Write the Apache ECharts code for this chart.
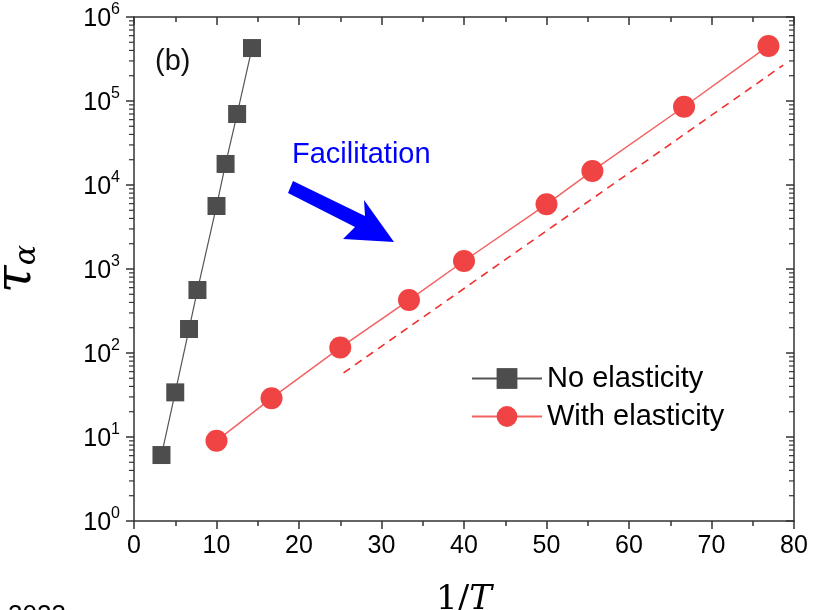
<!DOCTYPE html>
<html>
<head>
<meta charset="utf-8">
<script src="https://cdn.jsdelivr.net/npm/echarts@6/dist/echarts.min.js"></script>
<style>
  html, body { margin: 0; padding: 0; background: #fff; }
  #chart { width: 821px; height: 610px; }
</style>
</head>
<body>
<div id="chart"></div>
<script>
// No elasticity (black squares)
const noElasticX = [3.33, 5, 6.67, 7.69, 10, 11.1, 12.5, 14.3]
const noElasticY = [6.1, 34, 193, 562, 5620, 17800, 70000, 427000]
// With elasticity (red circles)
const withElasticX = [10, 16.67, 25, 33.33, 40, 50, 55.56, 66.67, 76.9]
const withElasticY = [9.0, 29, 116, 427, 1245, 5890, 14700, 85400, 452000]
// dashed guide line
const guideX = [25.4, 78.7]
const guideY = [58, 268000]

// log minor tick values 2..9 x 10^n
const minorVals = []
for (let n = 0; n < 6; n++) {
  for (let k = 2; k <= 9; k++) minorVals.push(k * Math.pow(10, n))
}

const pairs = (xs, ys) => xs.map((x, i) => [x, ys[i]])

const axisColor = '#333'
const chart = echarts.init(document.getElementById('chart'))

// short log minor ticks drawn at the left (outside) or right (inside) edge
function minorTicks(xEdge) {
  return function(params, api) {
    const p = api.coord([xEdge, api.value(0)])
    return {
      type: 'line',
      shape: { x1: p[0] - 5, y1: p[1], x2: p[0], y2: p[1] },
      style: { stroke: axisColor, lineWidth: 1.2 }
    }
  }
}

chart.setOption({
  animation: false,
  backgroundColor: '#fff',
  grid: { left: 134, right: 27, top: 17, bottom: 89, outerBoundsMode: 'none', containLabel: false },
  legend: {
    data: ['No elasticity', 'With elasticity'],
    left: 466,
    top: 359,
    orient: 'vertical',
    itemWidth: 70,
    itemHeight: 26,
    itemGap: 9,
    textStyle: { fontFamily: 'Liberation Sans', fontSize: 29, color: '#000' }
  },
  xAxis: [{
    type: 'value',
    min: 0,
    max: 80,
    interval: 10,
    name: '{n|1/}{i|T}',
    nameLocation: 'middle',
    nameGap: 62,
    nameTextStyle: {
      rich: {
        n: { fontFamily: 'DejaVu Serif', fontSize: 34, color: '#000' },
        i: { fontFamily: 'DejaVu Serif', fontStyle: 'italic', fontSize: 34, color: '#000' }
      }
    },
    axisLine: { onZero: false, lineStyle: { color: axisColor, width: 1.5 } },
    axisTick: { inside: false, length: 8, lineStyle: { color: axisColor, width: 1.5 } },
    minorTick: { show: true, splitNumber: 2, length: 5, lineStyle: { color: axisColor, width: 1.5 } },
    axisLabel: { fontFamily: 'Liberation Sans', fontSize: 25, color: '#000', margin: 13 },
    splitLine: { show: false }
  }, {
    type: 'value',
    position: 'top',
    min: 0,
    max: 80,
    interval: 10,
    axisLine: { onZero: false, lineStyle: { color: axisColor, width: 1.5 } },
    axisTick: { inside: true, length: 8, lineStyle: { color: axisColor, width: 1.5 } },
    minorTick: { show: true, splitNumber: 2, length: 5, lineStyle: { color: axisColor, width: 1.5 } },
    axisLabel: { show: false },
    splitLine: { show: false }
  }],
  yAxis: [{
    type: 'log',
    logBase: 10,
    min: 1,
    max: 1e6,
    name: '{t|τ}{s|α}',
    nameLocation: 'middle',
    nameRotate: 90,
    nameGap: 92,
    nameTextStyle: {
      rich: {
        t: { fontFamily: 'DejaVu Serif', fontStyle: 'italic', fontSize: 50, color: '#000', verticalAlign: 'bottom', lineHeight: 54 },
        s: { fontFamily: 'DejaVu Serif', fontStyle: 'italic', fontSize: 30, color: '#000', verticalAlign: 'bottom', lineHeight: 44 }
      }
    },
    axisLine: { onZero: false, lineStyle: { color: axisColor, width: 1.5 } },
    axisTick: { inside: false, length: 8, lineStyle: { color: axisColor, width: 1.5 } },
    axisLabel: {
      margin: 14,
      formatter: function(v) {
        return '{b|10}{e|' + Math.round(Math.log10(v)) + '}'
      },
      rich: {
        b: { fontFamily: 'Liberation Sans', fontSize: 25, color: '#000', verticalAlign: 'bottom', lineHeight: 30 },
        e: { fontFamily: 'Liberation Sans', fontSize: 16, color: '#000', verticalAlign: 'top', lineHeight: 30 }
      }
    },
    splitLine: { show: false }
  }, {
    type: 'log',
    logBase: 10,
    min: 1,
    max: 1e6,
    position: 'right',
    axisLine: { show: true, onZero: false, lineStyle: { color: axisColor, width: 1.5 } },
    axisTick: { show: true, inside: true, length: 8, lineStyle: { color: axisColor, width: 1.5 } },
    axisLabel: { show: false },
    splitLine: { show: false }
  }],
  graphic: [
    {
      type: 'text',
      left: 155,
      top: 47,
      style: { text: '(b)', fontFamily: 'Liberation Sans', fontSize: 29, fill: '#111' }
    },
    {
      type: 'text',
      left: 292,
      top: 140,
      style: { text: 'Facilitation', fontFamily: 'Liberation Sans', fontSize: 29, fill: '#0000ff' }
    },
    {
      // facilitation arrow
      type: 'polygon',
      shape: {
        points: [[293, 181], [365, 216], [364, 200], [394, 242], [343, 239], [355, 227], [288, 193]]
      },
      style: { fill: '#0000ff' }
    },
    {
      type: 'text',
      left: 8,
      top: 603,
      style: { text: '2023', fontFamily: 'Liberation Sans', fontSize: 26, fill: '#000' }
    }
  ],
  series: [
    {
      name: 'guide',
      type: 'line',
      data: pairs(guideX, guideY),
      showSymbol: false,
      symbol: 'none',
      lineStyle: { color: '#f03030', width: 1.6, type: [8, 6] },
      silent: true
    },
    {
      name: 'No elasticity',
      type: 'line',
      data: pairs(noElasticX, noElasticY),
      symbol: 'rect',
      symbolSize: 18,
      itemStyle: { color: '#4d4d4d' },
      lineStyle: { color: '#555', width: 1.2 }
    },
    {
      name: 'With elasticity',
      type: 'line',
      data: pairs(withElasticX, withElasticY),
      symbol: 'circle',
      symbolSize: 22,
      itemStyle: { color: '#f04444' },
      lineStyle: { color: '#f26262', width: 1.5 }
    },
    {
      name: 'minorLeft',
      type: 'custom',
      data: minorVals.map(v => [v]),
      encode: { y: 0 },
      renderItem: minorTicks(0),
      silent: true,
      clip: false
    },
    {
      name: 'minorRight',
      type: 'custom',
      data: minorVals.map(v => [v]),
      encode: { y: 0 },
      renderItem: minorTicks(80),
      silent: true,
      clip: false
    }
  ]
})
</script>
</body>
</html>
